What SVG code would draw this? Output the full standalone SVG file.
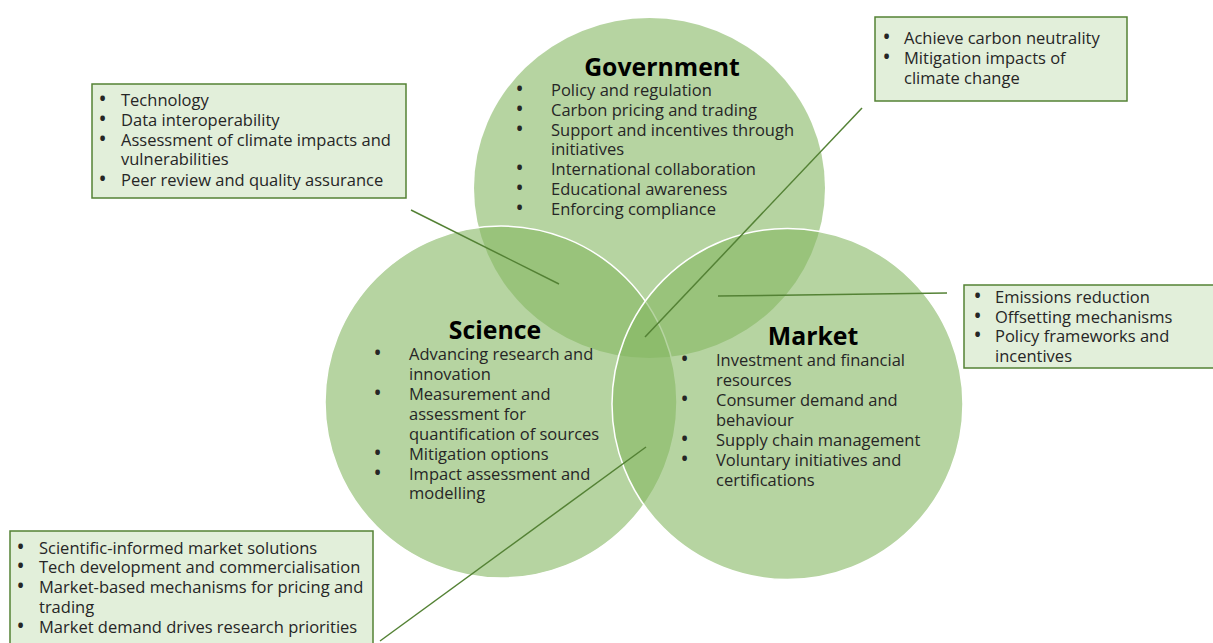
<svg xmlns="http://www.w3.org/2000/svg" width="1213" height="643" viewBox="0 0 1213 643">
  <style>
    .circle { fill: #85b762; fill-opacity: 0.6; }
    .edge { stroke: #ffffff; stroke-width: 1.5; }
    .title { font-family: "Open Sans", "Liberation Sans", sans-serif; font-size: 24.8px; font-weight: bold; fill: #000000; text-anchor: middle; }
    .item { font-family: "Open Sans", "Liberation Sans", sans-serif; font-size: 16.5px; fill: #262626; }
    .b { font-size: 19px; font-weight: 600; }
    .box { fill: #e2efda; stroke: #548235; stroke-width: 1.5; }
    .link { stroke: #548235; stroke-width: 1.5; fill: none; }
  </style>
  <rect width="1213" height="643" fill="#ffffff"/>

  <!-- Government circle -->
  <g id="government">
    <ellipse class="circle" cx="649.5" cy="188" rx="175.5" ry="170"/>
    <text class="title" x="662" y="75.5">Government</text>
    <text class="item">
      <tspan class="b" x="516" y="96">•</tspan><tspan x="551" y="96">Policy and regulation</tspan>
      <tspan class="b" x="516" y="116">•</tspan><tspan x="551" y="116">Carbon pricing and trading</tspan>
      <tspan class="b" x="516" y="136">•</tspan><tspan x="551" y="136">Support and incentives through</tspan>
      <tspan x="551" y="155">initiatives</tspan>
      <tspan class="b" x="516" y="175">•</tspan><tspan x="551" y="175">International collaboration</tspan>
      <tspan class="b" x="516" y="195">•</tspan><tspan x="551" y="195">Educational awareness</tspan>
      <tspan class="b" x="516" y="215">•</tspan><tspan x="551" y="215">Enforcing compliance</tspan>
    </text>
  </g>

  <!-- Science circle -->
  <g id="science">
    <circle class="circle edge" cx="501" cy="402" r="176"/>
  </g>

  <!-- Market circle -->
  <g id="market">
    <circle class="circle edge" cx="787.5" cy="404" r="175.5"/>
  </g>

  <g id="science-text">
    <text class="title" x="495" y="339">Science</text>
    <text class="item">
      <tspan class="b" x="374" y="360">•</tspan><tspan x="409" y="360">Advancing research and</tspan>
      <tspan x="409" y="380">innovation</tspan>
      <tspan class="b" x="374" y="400">•</tspan><tspan x="409" y="400">Measurement and</tspan>
      <tspan x="409" y="420">assessment for</tspan>
      <tspan x="409" y="440">quantification of sources</tspan>
      <tspan class="b" x="374" y="460">•</tspan><tspan x="409" y="460">Mitigation options</tspan>
      <tspan class="b" x="374" y="480">•</tspan><tspan x="409" y="480">Impact assessment and</tspan>
      <tspan x="409" y="499">modelling</tspan>
    </text>
  </g>

  <g id="market-text">
    <text class="title" x="813" y="345">Market</text>
    <text class="item">
      <tspan class="b" x="681" y="366">•</tspan><tspan x="716" y="366">Investment and financial</tspan>
      <tspan x="716" y="386">resources</tspan>
      <tspan class="b" x="681" y="406">•</tspan><tspan x="716" y="406">Consumer demand and</tspan>
      <tspan x="716" y="426">behaviour</tspan>
      <tspan class="b" x="681" y="446">•</tspan><tspan x="716" y="446">Supply chain management</tspan>
      <tspan class="b" x="681" y="466">•</tspan><tspan x="716" y="466">Voluntary initiatives and</tspan>
      <tspan x="716" y="486">certifications</tspan>
    </text>
  </g>

  <!-- Connectors from overlaps to callout boxes -->
  <g id="connectors">
    <line class="link" x1="411" y1="210" x2="559" y2="284"/>
    <line class="link" x1="862" y1="108" x2="645" y2="337"/>
    <line class="link" x1="718" y1="296" x2="947" y2="293"/>
    <line class="link" x1="646" y1="447" x2="380" y2="641"/>
  </g>

  <!-- Science ∩ Government callout -->
  <g id="callout-science-government">
    <rect class="box" x="92" y="84" width="314" height="114"/>
    <text class="item">
      <tspan class="b" x="99" y="106">•</tspan><tspan x="121" y="106">Technology</tspan>
      <tspan class="b" x="99" y="126">•</tspan><tspan x="121" y="126">Data interoperability</tspan>
      <tspan class="b" x="99" y="146">•</tspan><tspan x="121" y="146">Assessment of climate impacts and</tspan>
      <tspan x="121" y="165">vulnerabilities</tspan>
      <tspan class="b" x="99" y="186">•</tspan><tspan x="121" y="186">Peer review and quality assurance</tspan>
    </text>
  </g>

  <!-- Government ∩ Market callout -->
  <g id="callout-government-market">
    <rect class="box" x="875" y="17" width="252" height="84"/>
    <text class="item">
      <tspan class="b" x="883" y="44">•</tspan><tspan x="904" y="44">Achieve carbon neutrality</tspan>
      <tspan class="b" x="883" y="64">•</tspan><tspan x="904" y="64">Mitigation impacts of</tspan>
      <tspan x="904" y="84">climate change</tspan>
    </text>
  </g>

  <!-- Market callout -->
  <g id="callout-market">
    <rect class="box" x="964" y="285" width="260" height="83"/>
    <text class="item">
      <tspan class="b" x="974" y="303">•</tspan><tspan x="995" y="303">Emissions reduction</tspan>
      <tspan class="b" x="974" y="323">•</tspan><tspan x="995" y="323">Offsetting mechanisms</tspan>
      <tspan class="b" x="974" y="342">•</tspan><tspan x="995" y="342">Policy frameworks and</tspan>
      <tspan x="995" y="362">incentives</tspan>
    </text>
  </g>

  <!-- Science ∩ Market callout -->
  <g id="callout-science-market">
    <rect class="box" x="10" y="531" width="363" height="120"/>
    <text class="item">
      <tspan class="b" x="17" y="554">•</tspan><tspan x="39" y="554">Scientific-informed market solutions</tspan>
      <tspan class="b" x="17" y="573">•</tspan><tspan x="39" y="573">Tech development and commercialisation</tspan>
      <tspan class="b" x="17" y="593">•</tspan><tspan x="39" y="593">Market-based mechanisms for pricing and</tspan>
      <tspan x="39" y="613">trading</tspan>
      <tspan class="b" x="17" y="633">•</tspan><tspan x="39" y="633">Market demand drives research priorities</tspan>
    </text>
  </g>
</svg>
